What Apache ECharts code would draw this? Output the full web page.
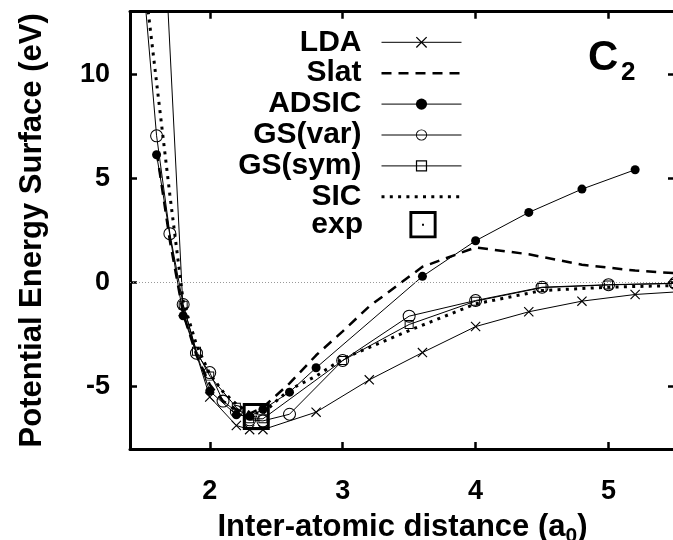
<!DOCTYPE html>
<html>
<head>
<meta charset="utf-8">
<script src="https://cdn.jsdelivr.net/npm/echarts@6/dist/echarts.min.js"></script>
<style>
    html, body { margin: 0; padding: 0; background: #fff; }
    #chart { width: 673px; height: 540px; }
</style>
</head>
<body>
<div id="chart"></div>
<script>
// C2 dimer: potential energy (eV) vs inter-atomic distance (a0)
const xTicks = [2, 3, 4, 5];
const yTicks = [-5, 0, 5, 10];

const ldaX = [1.6, 1.8, 2.0, 2.2, 2.3, 2.4, 2.8, 3.2, 3.6, 4.0, 4.4, 4.8, 5.2, 5.6];
const ldaY = [24.0, -1.4, -5.5, -6.87, -7.07, -7.07, -6.23, -4.68, -3.37, -2.12, -1.41, -0.9, -0.58, -0.42];

const slatX = [1.6, 1.7, 1.8, 1.9, 2.0, 2.1, 2.2, 2.3, 2.4, 2.6, 2.8, 3.0, 3.2, 3.6, 4.0, 4.4, 4.8, 5.2, 5.6];
const slatY = [6.3, 2.0, -1.5, -3.5, -4.9, -5.7, -6.1, -6.3, -6.0, -4.85, -3.5, -2.35, -1.15, 0.75, 1.68, 1.35, 0.85, 0.57, 0.4];

const adsicX = [1.6, 1.8, 2.0, 2.2, 2.3, 2.4, 2.6, 2.8, 3.6, 4.0, 4.4, 4.8, 5.2];
const adsicY = [6.13, -1.6, -5.22, -6.36, -6.43, -6.1, -5.27, -4.1, 0.29, 2.0, 3.36, 4.48, 5.41];

const gsVarX = [1.5, 1.6, 1.7, 1.8, 1.9, 2.0, 2.1, 2.2, 2.3, 2.4, 2.6, 3.0, 3.5, 4.0, 4.5, 5.0, 5.5];
const gsVarY = [14.5, 7.04, 2.34, -1.06, -3.4, -4.33, -5.7, -6.2, -6.6, -6.65, -6.33, -3.75, -1.62, -0.87, -0.23, -0.11, -0.04];

const gsSymX = [1.8, 1.9, 2.0, 2.2, 2.3, 2.4, 3.0, 3.5, 4.0, 4.5, 5.0, 5.5];
const gsSymY = [-1.1, -3.3, -4.5, -6.0, -6.55, -6.55, -3.75, -2.02, -0.9, -0.25, -0.12, -0.05];

const sicX = [1.5, 1.6, 1.7, 1.8, 1.9, 2.0, 2.1, 2.2, 2.3, 2.4, 2.5, 2.6, 2.8, 3.0, 3.5, 4.0, 4.5, 5.0, 5.5];
const sicY = [15.0, 9.6, 4.2, -0.9, -3.0, -4.4, -5.25, -5.85, -6.25, -6.3, -5.7, -5.15, -4.5, -3.67, -2.31, -1.03, -0.39, -0.23, -0.15];

const expX = [2.35];
const expY = [-6.44];

// marker shapes (filled paths, holes by opposite winding)
const CROSS = "path://M0,0.8L0.8,0L10,9.2L9.2,10Z M0.8,10L0,9.2L9.2,0L10,0.8Z";
const RING = "path://M10,0A10,10,0,1,1,10,20A10,10,0,1,1,10,0Z M10,1.6A8.4,8.4,0,1,0,10,18.4A8.4,8.4,0,1,0,10,1.6Z";
const SQUARE = "path://M0,0H10V10H0Z M1.1,1.1V8.9H8.9V1.1Z";
const BOX = "path://M0,0H28V28H0Z M3,3V25H25V3Z M13,13H15V15H13Z";
const NOSYM = "path://M0,0L10,10";

const FONT = "Liberation Sans";

const pairs = (xs, ys) => xs.map((x, i) => [x, ys[i]]);

const lineSeries = (name, xs, ys, symbol, size, lineStyle) => {
    return {
        name: name,
        type: "line",
        data: pairs(xs, ys),
        symbol: symbol,
        symbolSize: size,
        showSymbol: symbol !== NOSYM,
        itemStyle: { color: "#000" },
        lineStyle: Object.assign({ color: "#000", width: 1 }, lineStyle || {}),
        emphasis: { disabled: true },
        silent: true
    };
};

const series = [
    lineSeries("LDA", ldaX, ldaY, CROSS, 10),
    lineSeries("Slat", slatX, slatY, NOSYM, 1, { width: 2.5, type: [10, 7] }),
    lineSeries("ADSIC", adsicX, adsicY, "circle", 9),
    lineSeries("GS(var)", gsVarX, gsVarY, RING, 13),
    lineSeries("GS(sym)", gsSymX, gsSymY, SQUARE, 9),
    lineSeries("SIC", sicX, sicY, NOSYM, 1, { width: 3, type: [3, 5.3] }),
    lineSeries("exp", expX, expY, BOX, 27, { width: 0 })
];
series[6].z = 5;

// dotted zero line
series[0].markLine = {
    silent: true,
    symbol: ["none", "none"],
    label: { show: false },
    lineStyle: { color: "#999", width: 1, type: [1, 2] },
    data: [{ yAxis: 0 }]
};

const frameLine = { show: true, onZero: false, lineStyle: { color: "#000", width: 3 } };
const tickStyle = values => ({
    show: true,
    inside: true,
    length: 7,
    customValues: values,
    lineStyle: { color: "#000", width: 2.5 }
});
const tickLabel = (values, margin) => ({
    customValues: values,
    margin: margin,
    fontSize: 27,
    fontWeight: "bold",
    fontFamily: FONT,
    color: "#000"
});

const legendText = {
    fontSize: 30,
    fontWeight: "bold",
    fontFamily: FONT,
    color: "#000",
    lineHeight: 30,
    padding: [0, 15, 0, 0]
};

const option = {
    animation: false,
    textStyle: { fontFamily: FONT },
    title: [
        { text: "C", left: 588, top: 37, padding: 0,
          textStyle: { fontSize: 42, fontWeight: "bold", color: "#000", fontFamily: FONT } },
        { text: "2", left: 621, top: 60, padding: 0,
          textStyle: { fontSize: 26, fontWeight: "bold", color: "#000", fontFamily: FONT } }
    ],
    grid: { left: 130, right: -2, top: 11.7, bottom: 91, outerBoundsMode: "none" },
    legend: [
        {
            orient: "vertical",
            align: "right",
            right: 210,
            top: 27.3,
            padding: 0,
            itemWidth: 80,
            itemHeight: 14,
            itemGap: 0.9,
            selectedMode: false,
            textStyle: legendText,
            lineStyle: { width: "inherit" },
            data: ["LDA", "Slat", "ADSIC", "GS(var)", "GS(sym)", "SIC"]
        },
        {
            orient: "vertical",
            align: "right",
            right: 210,
            top: 209.7,
            padding: 0,
            itemWidth: 80,
            itemHeight: 34,
            selectedMode: false,
            textStyle: legendText,
            lineStyle: { width: "inherit" },
            data: ["exp"]
        }
    ],
    xAxis: [
        {
            type: "value",
            min: 1.4,
            max: 5.5,
            position: "bottom",
            axisLine: frameLine,
            axisTick: tickStyle(xTicks),
            axisLabel: tickLabel(xTicks, 29),
            splitLine: { show: false },
            name: "{t|Inter-atomic distance (a}{s|0}{t|)}",
            nameLocation: "middle",
            nameGap: 58,
            nameTextStyle: {
                color: "#000",
                rich: {
                    t: { fontSize: 31, fontWeight: "bold", fontFamily: FONT, lineHeight: 40, color: "#000" },
                    s: { fontSize: 21, fontWeight: "bold", fontFamily: FONT, lineHeight: 21,
                         verticalAlign: "bottom", color: "#000" }
                }
            }
        },
        {
            type: "value",
            min: 1.4,
            max: 5.5,
            position: "top",
            axisLine: frameLine,
            axisTick: tickStyle(xTicks),
            axisLabel: { show: false },
            splitLine: { show: false }
        }
    ],
    yAxis: [
        {
            type: "value",
            min: -8,
            max: 13,
            position: "left",
            axisLine: frameLine,
            axisTick: tickStyle(yTicks),
            axisLabel: tickLabel(yTicks, 20),
            splitLine: { show: false },
            name: "Potential Energy Surface (eV)",
            nameLocation: "middle",
            nameGap: 82,
            nameTextStyle: { fontSize: 31, fontWeight: "bold", fontFamily: FONT, color: "#000" }
        },
        {
            type: "value",
            min: -8,
            max: 13,
            position: "right",
            axisLine: frameLine,
            axisTick: tickStyle(yTicks),
            axisLabel: { show: false },
            splitLine: { show: false }
        }
    ],
    series: series
};

const chart = echarts.init(document.getElementById("chart"), null, { renderer: "canvas" });
chart.setOption(option);
</script>
</body>
</html>
